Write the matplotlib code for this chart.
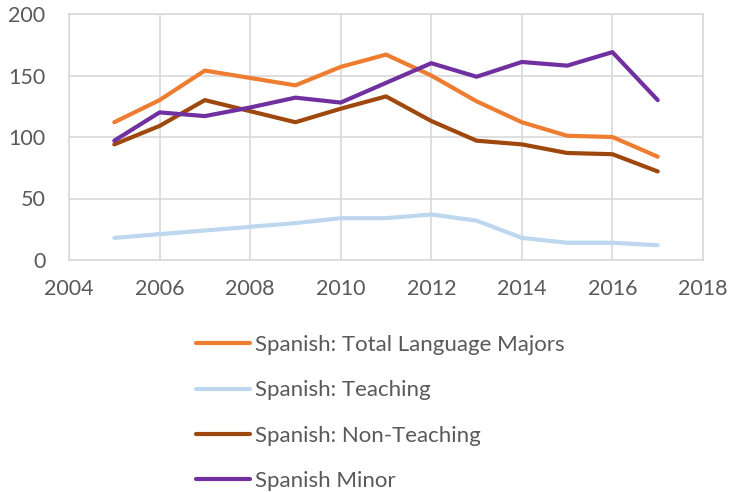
import matplotlib
matplotlib.use('Agg')
import matplotlib.pyplot as plt

# datos
anios = [2005, 2006, 2007, 2008, 2009, 2010, 2011, 2012, 2013, 2014, 2015, 2016, 2017]
total = [112, 130, 154, 148, 142, 157, 167, 150, 129, 112, 101, 100, 84]
ensenanza = [18, 21, 24, 27, 30, 34, 34, 37, 32, 18, 14, 14, 12]
no_ensenanza = [94, 109, 130, 121, 112, 123, 133, 113, 97, 94, 87, 86, 72]
menor = [97, 120, 117, 124, 132, 128, 144, 160, 149, 161, 158, 169, 130]

nombres = ['Spanish: Total Language Majors', 'Spanish: Teaching',
           'Spanish: Non-Teaching', 'Spanish Minor']
colores = ['#ED7D31', '#BDD7EE', '#9E480E', '#7030A0']

plt.rcParams['font.family'] = ['Lato', 'DejaVu Sans']
gris = '#595959'

fig = plt.figure(figsize=(7.29, 4.92), dpi=100)
ax = fig.add_axes([69/729, 1 - 260/492, 634/729, 246/492])

for serie, nombre, color in zip([total, ensenanza, no_ensenanza, menor], nombres, colores):
    ax.plot(anios, serie, color=color, lw=3, label=nombre, solid_capstyle='round')

ax.set_xlim(2004, 2018)
ax.set_ylim(0, 200)
ax.set_xticks(range(2004, 2019, 2))
ax.set_yticks(range(0, 201, 50))
ax.grid(True, color='#D9D9D9', lw=1.2)
ax.set_axisbelow(True)
for s in ax.spines.values():
    s.set_color('#D9D9D9')
    s.set_linewidth(1.2)
ax.tick_params(length=0, labelsize=15.5, labelcolor=gris)
ax.tick_params(axis='y', pad=17)
ax.tick_params(axis='x', pad=14)

leg = fig.legend(loc='upper left', bbox_to_anchor=(196/729, 1 - 335/492),
                 frameon=False, fontsize=16, handlelength=2.45, handletextpad=0.2,
                 labelspacing=1.14, borderpad=0, borderaxespad=0)
for t in leg.get_texts():
    t.set_color(gris)

fig.savefig('out.png', dpi=100)
